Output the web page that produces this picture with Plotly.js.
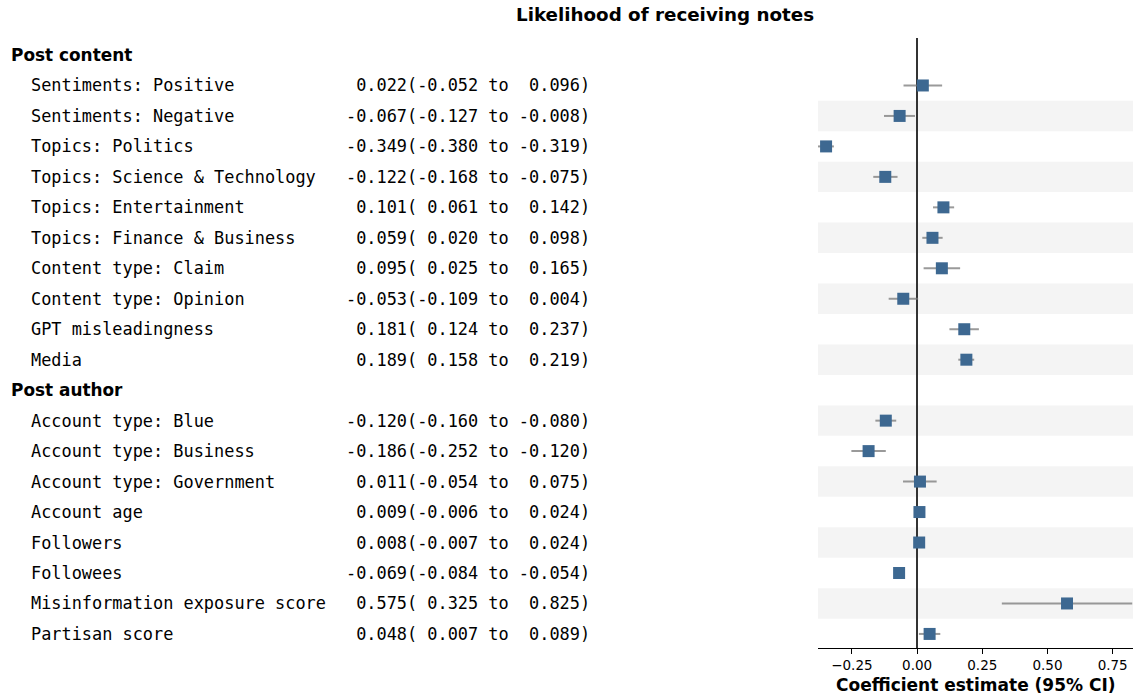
<!DOCTYPE html>
<html>
<head>
<meta charset="utf-8">
<script src="https://cdn.plot.ly/plotly-3.0.1.min.js"></script>
<style>html,body{margin:0;padding:0;background:#fff;}#chart{width:1136px;height:694px;}</style>
</head>
<body>
<div id="chart"></div>
<script>
const groupTitles = ["Post content", "Post author"];
const groupSizes = [10, 8];
const labels = [
  "Sentiments: Positive", "Sentiments: Negative", "Topics: Politics",
  "Topics: Science & Technology", "Topics: Entertainment", "Topics: Finance & Business",
  "Content type: Claim", "Content type: Opinion", "GPT misleadingness", "Media",
  "Account type: Blue", "Account type: Business", "Account type: Government",
  "Account age", "Followers", "Followees", "Misinformation exposure score", "Partisan score"
];
const estimates = [0.022, -0.067, -0.349, -0.122, 0.101, 0.059, 0.095, -0.053, 0.181, 0.189,
  -0.120, -0.186, 0.011, 0.009, 0.008, -0.069, 0.575, 0.048];
const lower = [-0.052, -0.127, -0.380, -0.168, 0.061, 0.020, 0.025, -0.109, 0.124, 0.158,
  -0.160, -0.252, -0.054, -0.006, -0.007, -0.084, 0.325, 0.007];
const upper = [0.096, -0.008, -0.319, -0.075, 0.142, 0.098, 0.165, 0.004, 0.237, 0.219,
  -0.080, -0.120, 0.075, 0.024, 0.024, -0.054, 0.825, 0.089];
const xTickVals = [-0.25, 0, 0.25, 0.5, 0.75];
const chartTitle = "Likelihood of receiving notes";
const xTitle = "Coefficient estimate (95% CI)";

// layout geometry (pixels)
const W = 1136, H = 694;
const plotL = 818, plotR = 1133, plotT = 38, plotB = 648;
const plotW = plotR - plotL, plotH = plotB - plotT;
const px2paperX = p => (p - plotL) / plotW;
const px2paperY = p => (plotB - p) / plotH;

// assign rows
const rowOf = [];
const headerRows = [];
let r = 0;
groupSizes.forEach((n, g) => {
  headerRows.push(r); r++;
  for (let i = 0; i < n; i++) { rowOf.push(r); r++; }
});
const nRows = r;

const fmt = v => {
  const s = (v < 0 ? "-" : "") + Math.abs(v).toFixed(3);
  return s.padStart(6, "\u00a0");
};

const annotations = [];
const mono = "DejaVu Sans Mono, monospace";
headerRows.forEach((row, g) => {
  annotations.push({
    xref: "paper", yref: "y", x: px2paperX(9), y: row, xanchor: "left", yanchor: "middle",
    text: "<b>" + groupTitles[g] + "</b>", showarrow: false,
    font: {family: "DejaVu Sans, sans-serif", size: 16.9, color: "#000"}
  });
});
labels.forEach((lab, i) => {
  annotations.push({
    xref: "paper", yref: "y", x: px2paperX(29), y: rowOf[i], xanchor: "left", yanchor: "middle",
    text: lab.replace(/&/g, "&amp;"), showarrow: false,
    font: {family: mono, size: 16.9, color: "#000"}
  });
  annotations.push({
    xref: "paper", yref: "y", x: px2paperX(592), y: rowOf[i], xanchor: "right", yanchor: "middle",
    text: fmt(estimates[i]) + "(" + fmt(lower[i]) + " to " + fmt(upper[i]) + ")", showarrow: false,
    font: {family: mono, size: 16.9, color: "#000"}
  });
});
annotations.push({
  xref: "paper", yref: "paper", x: px2paperX(664.5), y: px2paperY(14), xanchor: "center", yanchor: "middle",
  text: "<b>" + chartTitle + "</b>", showarrow: false,
  font: {family: "DejaVu Sans, sans-serif", size: 18.3, color: "#000"}
});
annotations.push({
  xref: "paper", yref: "paper", x: 0.5, y: px2paperY(685), xanchor: "center", yanchor: "middle",
  text: "<b>" + xTitle + "</b>", showarrow: false,
  font: {family: "DejaVu Sans, sans-serif", size: 17, color: "#000"}
});

const shapes = [];
for (let row = 2; row < nRows; row += 2) {
  shapes.push({type: "rect", xref: "paper", yref: "y", x0: 0, x1: 1, y0: row - 0.5, y1: row + 0.5,
    fillcolor: "#f4f4f4", line: {width: 0}, layer: "below"});
}

const rowPerPx = 30.47;
const yTop = (plotT - 55) / rowPerPx, yBot = (plotB - 55) / rowPerPx;

const trace = {
  type: "scatter", mode: "markers",
  x: estimates, y: rowOf,
  marker: {symbol: "square", size: 12, color: "#3d6891"},
  error_x: {type: "data", symmetric: false,
    array: upper.map((u, i) => u - estimates[i]),
    arrayminus: lower.map((l, i) => estimates[i] - l),
    color: "rgba(120,120,120,0.75)", thickness: 2, width: 0},
  hoverinfo: "skip", cliponaxis: false
};

const layout = {
  width: W, height: H,
  margin: {l: plotL, r: W - plotR, t: plotT, b: H - plotB, pad: 0},
  paper_bgcolor: "#fff", plot_bgcolor: "rgba(0,0,0,0)",
  showlegend: false,
  xaxis: {range: [-0.38, 0.828], tickvals: xTickVals, ticktext: xTickVals.map(v => (v < 0 ? "\u2212" : "") + Math.abs(v).toFixed(2)),
    showgrid: false, zeroline: true, zerolinecolor: "#333", zerolinewidth: 1.3,
    showline: true, linecolor: "#000", linewidth: 1, ticks: "outside", ticklen: 5, tickcolor: "#000",
    tickfont: {family: "DejaVu Sans, sans-serif", size: 13.5, color: "#000"}, fixedrange: true},
  yaxis: {range: [yBot, yTop], visible: false, showgrid: false, zeroline: false, fixedrange: true},
  shapes: shapes,
  annotations: annotations
};

Plotly.newPlot("chart", [trace], layout, {displayModeBar: false, staticPlot: true});
</script>
</body>
</html>
